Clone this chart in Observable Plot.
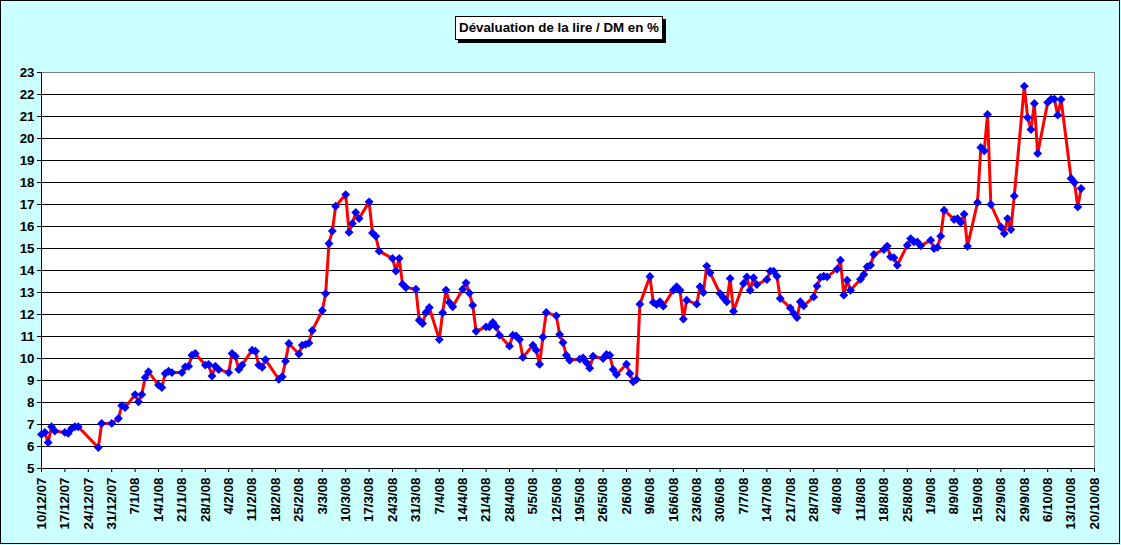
<!DOCTYPE html>
<html>
<head>
<meta charset="utf-8">
<script src="https://cdn.jsdelivr.net/npm/d3@7"></script>
<script src="https://cdn.jsdelivr.net/npm/@observablehq/plot@0.6"></script>
<style>
  body { margin: 0; background: #ffffff; }
  #wrap { position: relative; width: 1121px; height: 545px; background: #CCFFFF; overflow: hidden;
          font-family: "Liberation Sans", Arial, sans-serif; }
  #border { position: absolute; left: 0; top: 0; width: 1120px; height: 544px; box-sizing: border-box;
            border: 1px solid #000; pointer-events: none; }
  #title { position: absolute; left: 455px; top: 16px; width: 208px; height: 24px; box-sizing: border-box;
           border: 1px solid #000; background: #fff; box-shadow: 3px 3px 0 #000;
           font-weight: bold; font-size: 13.33px; line-height: 22px; text-align: center; color: #000; white-space: nowrap; }
  #chart { position: absolute; left: 0; top: 48px; }
</style>
</head>
<body>
<div id="wrap">
  <div id="title">Dévaluation de la lire / DM en %</div>
  <div id="chart"></div>
  <div id="border"></div>
</div>
<script>
// ---- data ----
const dates = [
  "10/12/07","11/12/07","12/12/07","13/12/07","14/12/07","17/12/07","18/12/07","19/12/07","20/12/07","21/12/07",
  "27/12/07","28/12/07","31/12/07",
  "2/1/08","3/1/08","4/1/08","7/1/08","8/1/08","9/1/08","10/1/08","11/1/08","14/1/08","15/1/08","16/1/08","17/1/08","18/1/08",
  "21/1/08","22/1/08","23/1/08","24/1/08","25/1/08","28/1/08","29/1/08","30/1/08","31/1/08","1/2/08",
  "4/2/08","5/2/08","6/2/08","7/2/08","8/2/08","11/2/08","12/2/08","13/2/08","14/2/08","15/2/08",
  "19/2/08","20/2/08","21/2/08","22/2/08","25/2/08","26/2/08","27/2/08","28/2/08","29/2/08",
  "3/3/08","4/3/08","5/3/08","6/3/08","7/3/08","10/3/08","11/3/08","12/3/08","13/3/08","14/3/08",
  "17/3/08","18/3/08","19/3/08","20/3/08","24/3/08","25/3/08","26/3/08","27/3/08","28/3/08",
  "31/3/08","1/4/08","2/4/08","3/4/08","4/4/08","7/4/08","8/4/08","9/4/08","10/4/08","11/4/08",
  "14/4/08","15/4/08","16/4/08","17/4/08","18/4/08","21/4/08","22/4/08","23/4/08","24/4/08","25/4/08",
  "28/4/08","29/4/08","30/4/08","1/5/08","2/5/08","5/5/08","6/5/08","7/5/08","8/5/08","9/5/08",
  "12/5/08","13/5/08","14/5/08","15/5/08","16/5/08","19/5/08","20/5/08","21/5/08","22/5/08","23/5/08",
  "26/5/08","27/5/08","28/5/08","29/5/08","30/5/08","2/6/08","3/6/08","4/6/08","5/6/08","6/6/08",
  "9/6/08","10/6/08","11/6/08","12/6/08","13/6/08","16/6/08","17/6/08","18/6/08","19/6/08","20/6/08",
  "23/6/08","24/6/08","25/6/08","26/6/08","27/6/08","30/6/08","1/7/08","2/7/08","3/7/08","4/7/08",
  "7/7/08","8/7/08","9/7/08","10/7/08","11/7/08","14/7/08","15/7/08","16/7/08","17/7/08","18/7/08",
  "21/7/08","22/7/08","23/7/08","24/7/08","25/7/08","28/7/08","29/7/08","30/7/08","31/7/08","1/8/08",
  "4/8/08","5/8/08","6/8/08","7/8/08","8/8/08","11/8/08","12/8/08","13/8/08","14/8/08","15/8/08",
  "18/8/08","19/8/08","20/8/08","21/8/08","22/8/08","25/8/08","26/8/08","27/8/08","28/8/08","29/8/08",
  "1/9/08","2/9/08","3/9/08","4/9/08","5/9/08","8/9/08","9/9/08","10/9/08","11/9/08","12/9/08",
  "15/9/08","16/9/08","17/9/08","18/9/08","19/9/08","22/9/08","23/9/08","24/9/08","25/9/08","26/9/08",
  "29/9/08","30/9/08","1/10/08","2/10/08","3/10/08","6/10/08","7/10/08","8/10/08","9/10/08","10/10/08",
  "13/10/08","14/10/08","15/10/08","16/10/08"
];
const values = [
  6.55,6.64,6.18,6.90,6.70,6.64,6.60,6.82,6.90,6.90,
  5.95,7.05,7.05,
  7.27,7.86,7.77,8.36,8.03,8.36,9.14,9.40,8.79,8.68,9.32,9.42,9.36,
  9.36,9.62,9.65,10.15,10.23,9.70,9.73,9.20,9.65,9.50,
  9.36,10.23,10.10,9.50,9.70,10.38,10.33,9.70,9.60,9.95,
  9.05,9.17,9.88,10.68,10.20,10.60,10.64,10.70,11.27,
  12.18,12.95,15.23,15.79,16.92,17.45,15.74,16.14,16.64,16.36,
  17.12,15.71,15.56,14.88,14.55,13.98,14.55,13.38,13.23,
  13.15,11.74,11.59,12.09,12.32,10.86,12.08,13.11,12.55,12.35,
  13.15,13.44,12.98,12.42,11.24,11.44,11.44,11.64,11.44,11.06,
  10.56,11.06,11.02,10.86,10.05,10.60,10.38,9.74,10.98,12.09,
  11.94,11.09,10.73,10.15,9.92,9.97,10.03,9.82,9.56,10.10,
  10.00,10.18,10.15,9.50,9.27,9.74,9.32,8.94,9.05,12.47,
  13.73,12.55,12.45,12.58,12.38,13.10,13.26,13.10,11.79,12.65,
  12.47,13.26,13.00,14.20,13.90,12.95,12.76,12.58,13.64,12.15,
  13.41,13.71,13.10,13.67,13.36,13.59,13.97,13.97,13.74,12.73,
  12.30,12.05,11.86,12.58,12.39,12.80,13.29,13.68,13.74,13.71,
  14.06,14.47,12.88,13.56,13.10,13.60,13.82,14.17,14.24,14.73,
  14.95,15.11,14.62,14.58,14.24,15.15,15.45,15.30,15.30,15.12,
  15.38,15.00,15.05,15.56,16.74,16.32,16.36,16.18,16.56,15.10,
  17.09,19.59,19.44,21.09,17.00,15.98,15.68,16.36,15.86,17.39,
  22.38,20.95,20.41,21.59,19.32,21.64,21.79,21.79,21.06,21.77,
  18.18,18.00,16.89,17.73
];
const xTickLabels = [
  "10/12/07","17/12/07","24/12/07","31/12/07","7/1/08","14/1/08","21/1/08","28/1/08","4/2/08","11/2/08",
  "18/2/08","25/2/08","3/3/08","10/3/08","17/3/08","24/3/08","31/3/08","7/4/08","14/4/08","21/4/08",
  "28/4/08","5/5/08","12/5/08","19/5/08","26/5/08","2/6/08","9/6/08","16/6/08","23/6/08","30/6/08",
  "7/7/08","14/7/08","21/7/08","28/7/08","4/8/08","11/8/08","18/8/08","25/8/08","1/9/08","8/9/08",
  "15/9/08","22/9/08","29/9/08","6/10/08","13/10/08","20/10/08"
];
const yTicks = [5,6,7,8,9,10,11,12,13,14,15,16,17,18,19,20,21,22,23];

// ---- build ----
const parse = s => { const [d, m, y] = s.split("/").map(Number); return new Date(Date.UTC(2000 + y, m - 1, d)); };
const fmt = d => `${d.getUTCDate()}/${d.getUTCMonth() + 1}/${String(d.getUTCFullYear()).slice(2)}`;
const data = dates.map((s, i) => ({date: parse(s), value: values[i]}));
const xTicks = xTickLabels.map(parse);
const xDomain = [xTicks[0], xTicks[xTicks.length - 1]];
const yDomain = [yTicks[0], yTicks[yTicks.length - 1]];

const chart = Plot.plot({
  width: 1120,
  height: 497,
  marginLeft: 41,
  marginRight: 26,
  marginTop: 24,
  marginBottom: 77,
  style: {fontFamily: '"Liberation Sans", Arial, sans-serif', fontSize: "13.33px", fontWeight: "bold", color: "#000", background: "transparent", overflow: "visible"},
  x: {type: "utc", domain: xDomain},
  y: {domain: yDomain},
  marks: [
    Plot.frame({fill: "#ffffff", stroke: "#808080"}),
    Plot.gridY(yTicks.slice(1, -1), {stroke: "#000", strokeOpacity: 1}),
    Plot.ruleX([xDomain[0]], {stroke: "#000"}),
    Plot.ruleY([yDomain[0]], {stroke: "#000"}),
    Plot.axisY({ticks: yTicks, tickSize: 4, tickPadding: 3, label: null, stroke: "#000"}),
    Plot.axisX({ticks: xTicks, tickFormat: fmt, tickRotate: -90, tickSize: 4, tickPadding: 5, label: null, stroke: "#000"}),
    Plot.line(data, {x: "date", y: "value", stroke: "#FF0000", strokeWidth: 3, strokeLinejoin: "miter", strokeMiterlimit: 2}),
    Plot.dot(data, {x: "date", y: "value", symbol: "diamond2", r: 4, fill: "#0000FF", stroke: "none"})
  ]
});
document.getElementById("chart").appendChild(chart);
</script>
</body>
</html>
